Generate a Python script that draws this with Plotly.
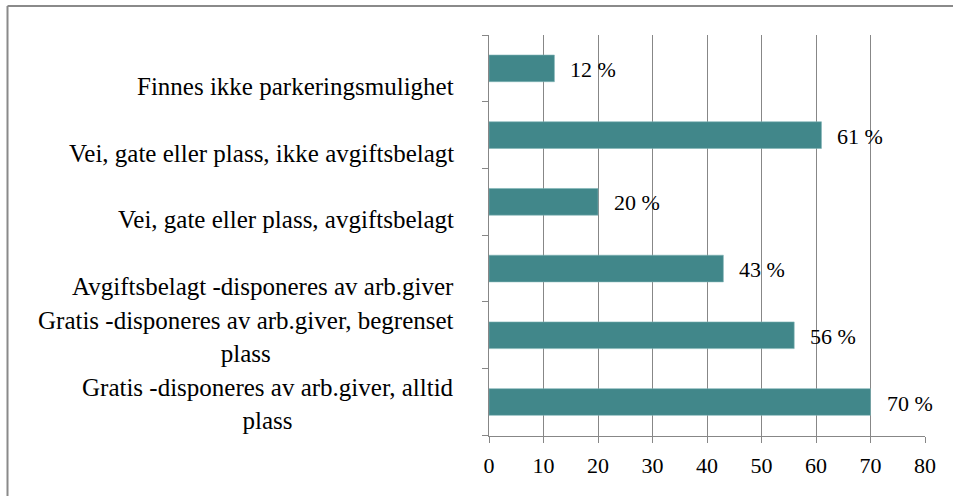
import plotly.graph_objects as go

# Data (bottom to top)
categories = [
    "Gratis -disponeres av arb.giver, alltid<br>plass",
    "Gratis -disponeres av arb.giver, begrenset<br>plass",
    "Avgiftsbelagt -disponeres av arb.giver",
    "Vei, gate eller plass, avgiftsbelagt",
    "Vei, gate eller plass, ikke avgiftsbelagt",
    "Finnes ikke parkeringsmulighet",
]
values = [70, 56, 43, 20, 61, 12]
value_labels = [f"{v} %" for v in values]
x_ticks = [0, 10, 20, 30, 40, 50, 60, 70, 80]

W, H = 953, 496
L, R, T, B = 489, 28, 35, 60
pw, ph = W - L - R, H - T - B

FONT = "'Liberation Serif', 'Times New Roman', 'DejaVu Serif', serif"
BAR = "#41878A"
GRID = "#878787"
FRAME = "#8a8a8a"

fig = go.Figure(go.Bar(
    x=values, y=categories, orientation="h",
    marker=dict(color=BAR, line=dict(color="#7fb3b5", width=0.6)),
    width=0.4, hoverinfo="skip",
))

annotations = []
for c, v, lab in zip(categories, values, value_labels):
    annotations.append(dict(
        x=v, y=c, xref="x", yref="y", text=lab, showarrow=False,
        xanchor="left", yanchor="middle", xshift=14, yshift=-1,
        font=dict(family=FONT, size=22, color="#000000"),
    ))
    nlines = c.count("<br>") + 1
    annotations.append(dict(
        x=(456 - L) / pw, y=c, xref="paper", yref="y", text=c, showarrow=False,
        xanchor="right", yanchor="middle", align="center",
        yshift=-18 if nlines == 1 else -2,
        font=dict(family=FONT, size=25, color="#000000"),
    ))

# frame (top and left edges visible in the reference)
fx0 = (7.5 - L) / pw
fy1 = (H - B - 6) / ph
fig.add_shape(type="line", xref="paper", yref="paper", x0=fx0, x1=(W + 5 - L) / pw,
              y0=fy1, y1=fy1, line=dict(color=FRAME, width=2))
fig.add_shape(type="line", xref="paper", yref="paper", x0=fx0, x1=fx0,
              y0=(H - B - H - 5) / ph, y1=fy1, line=dict(color=FRAME, width=2))

fig.update_layout(
    width=W, height=H,
    margin=dict(l=L, r=R, t=T, b=B, pad=0),
    paper_bgcolor="white", plot_bgcolor="white",
    showlegend=False,
    font=dict(family=FONT),
    annotations=annotations,
    xaxis=dict(
        range=[0, 80], tickvals=x_ticks, ticktext=[str(t) for t in x_ticks],
        showgrid=True, gridcolor=GRID, gridwidth=1.3,
        zeroline=False, showline=True, linecolor=GRID, linewidth=1.3,
        ticks="outside", ticklen=6, tickcolor=GRID, tickwidth=1.3,
        ticklabelstandoff=3,
        tickfont=dict(family=FONT, size=22, color="#000000"),
        fixedrange=True,
    ),
    yaxis=dict(
        type="category", tickson="boundaries", ticks="outside", ticklen=6,
        tickcolor=GRID, tickwidth=1.3, showline=True, linecolor=GRID, linewidth=1.3,
        showgrid=False, zeroline=False, showticklabels=False, fixedrange=True,
    ),
)

fig.write_html(
    "out.html",
    config={"displayModeBar": False},
    post_script="document.body.style.margin='0';document.body.style.overflow='hidden';",
)
